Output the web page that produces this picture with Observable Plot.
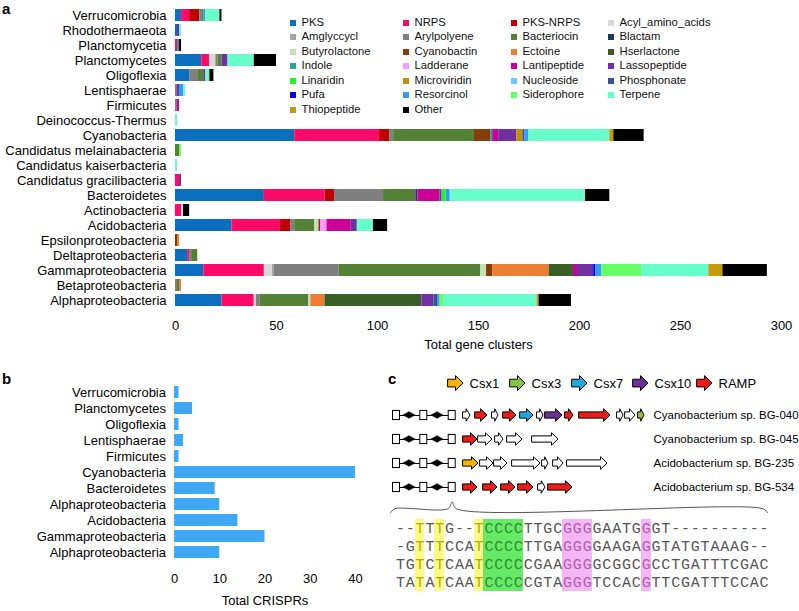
<!DOCTYPE html>
<html><head><meta charset="utf-8">
<script src="https://cdn.jsdelivr.net/npm/d3@7"></script>
<script src="https://cdn.jsdelivr.net/npm/@observablehq/plot@0.6"></script>
<style>
body{margin:0;background:#fff;}
#root{position:relative;width:799px;height:611px;overflow:hidden;background:#fff;font-family:"Liberation Sans",Arial,sans-serif;color:#000;}
.panel{position:absolute;}
.plbl{position:absolute;font-weight:bold;font-size:15px;line-height:15px;}
.legi{position:absolute;font-size:11.3px;line-height:14px;white-space:nowrap;color:#111;}
.legi span{display:inline-block;width:6px;height:6px;margin-right:5.5px;vertical-align:0px;}
</style></head>
<body><div id="root"></div>
<script>
// ---------- Panel a data ----------
const types = ["PKS","NRPS","PKS-NRPS","Acyl_amino_acids","Amglyccycl","Arylpolyene","Bacteriocin","Blactam","Butyrolactone","Cyanobactin","Ectoine","Hserlactone","Indole","Ladderane","Lantipeptide","Lassopeptide","Linaridin","Microviridin","Nucleoside","Phosphonate","Pufa","Resorcinol","Siderophore","Terpene","Thiopeptide","Other"];
const typeColors = ["#0b6fc0","#ff0a68","#c00000","#d9d9d9","#a6a6a6","#7f7f7f","#538135","#1f3864","#c5e0b3","#843c0b","#ed7d31","#3b5e27","#26a69a","#ff99ff","#cc0099","#7030a0","#1aff1a","#bf9000","#66ccff","#2f5597","#0000ff","#3399ff","#66ff66","#66ffcc","#c49a0c","#000000"];
const phyla = ["Verrucomicrobia","Rhodothermaeota","Planctomycetia","Planctomycetes","Oligoflexia","Lentisphaerae","Firmicutes","Deinococcus-Thermus","Cyanobacteria","Candidatus melainabacteria","Candidatus kaiserbacteria","Candidatus gracilibacteria","Bacteroidetes","Actinobacteria","Acidobacteria","Epsilonproteobacteria","Deltaproteobacteria","Gammaproteobacteria","Betaproteobacteria","Alphaproteobacteria"];
const clusterCounts = [
 [["PKS",3],["NRPS",4],["PKS-NRPS",5],["Arylpolyene",1],["Bacteriocin",1],["Resorcinol",1],["Terpene",7],["Other",1]],
 [["PKS",1],["Lassopeptide",1],["Terpene",1]],
 [["NRPS",1],["Indole",1],["Other",1]],
 [["PKS",13],["NRPS",4],["Acyl_amino_acids",3],["Arylpolyene",1],["Bacteriocin",2],["Lassopeptide",3],["Terpene",13],["Other",11]],
 [["PKS",7],["Arylpolyene",4],["Bacteriocin",3],["Lassopeptide",1],["Terpene",2],["Other",2]],
 [["Arylpolyene",1],["Lassopeptide",1],["Resorcinol",2],["Terpene",1]],
 [["Arylpolyene",1],["Lantipeptide",1]],
 [["Terpene",1]],
 [["PKS",59],["NRPS",42],["PKS-NRPS",5],["Arylpolyene",2],["Bacteriocin",40],["Cyanobactin",8],["Indole",1],["Lantipeptide",3],["Lassopeptide",9],["Microviridin",3],["Phosphonate",1],["Resorcinol",2],["Terpene",40],["Thiopeptide",2],["Other",15]],
 [["Bacteriocin",2],["Siderophore",1]],
 [["Terpene",1]],
 [["NRPS",2],["Lassopeptide",1]],
 [["PKS",44],["NRPS",30],["PKS-NRPS",5],["Arylpolyene",24],["Bacteriocin",16],["Blactam",1],["Lantipeptide",11],["Lassopeptide",1],["Linaridin",2],["Resorcinol",2],["Terpene",67],["Other",12]],
 [["NRPS",3],["Acyl_amino_acids",1],["Other",3]],
 [["PKS",28],["NRPS",24],["PKS-NRPS",5],["Arylpolyene",2],["Bacteriocin",10],["Butyrolactone",2],["Cyanobactin",1],["Ladderane",3],["Lantipeptide",12],["Lassopeptide",3],["Terpene",8],["Other",7]],
 [["Cyanobactin",1],["Ectoine",1]],
 [["PKS",6],["NRPS",1],["Arylpolyene",1],["Bacteriocin",3]],
 [["PKS",14],["NRPS",30],["Acyl_amino_acids",4],["Amglyccycl",1],["Arylpolyene",32],["Bacteriocin",70],["Butyrolactone",3],["Cyanobactin",3],["Ectoine",28],["Hserlactone",12],["Lantipeptide",2],["Lassopeptide",8],["Pufa",1],["Resorcinol",3],["Siderophore",20],["Terpene",33],["Thiopeptide",7],["Other",22]],
 [["Arylpolyene",1],["Bacteriocin",1],["Ectoine",1]],
 [["PKS",23],["NRPS",16],["Acyl_amino_acids",1],["Arylpolyene",2],["Bacteriocin",24],["Butyrolactone",1],["Ectoine",7],["Hserlactone",48],["Lassopeptide",6],["Phosphonate",2],["Resorcinol",1],["Siderophore",2],["Terpene",46],["Thiopeptide",1],["Other",16]]
];
const clusterTicks = [0,50,100,150,200,250,300];

// ---------- Panel b data ----------
const crisprPhyla = ["Verrucomicrobia","Planctomycetes","Oligoflexia","Lentisphaerae","Firmicutes","Cyanobacteria","Bacteroidetes","Alphaproteobacteria","Acidobacteria","Gammaproteobacteria","Alphaproteobacteria"];
const crisprCounts = [1,4,1,2,1,40,9,10,14,20,10];
const crisprTicks = [0,10,20,30,40];

// ---------- Panel c data ----------
const geneTypes = ["Csx1","Csx3","Csx7","Csx10","RAMP"];
const geneColors = ["#f6b50a","#86c440","#1ea9e1","#6c2f94","#ec1c17"];
const genomes = ["Cyanobacterium sp. BG-040","Cyanobacterium sp. BG-045","Acidobacterium sp. BG-235","Acidobacterium sp. BG-534"];
const crisprRepeatPos = [6, 33.3, 61.7];
const crisprSpacerPos = [19, 47];
const genesBG040 = [[73,80,""],[85,97,"RAMP"],[102,108,""],[113,126,"RAMP"],[130,143,"Csx7"],[147,153,""],[155,172,"Csx10"],[175,183,"RAMP"],[189,220,"RAMP"],[227,233,""],[235,245,""],[248,254,"Csx3"]];
const genesBG045 = [[73,87,"RAMP"],[88,102,""],[105,113,""],[117,132,""],[142,168,""]];
const genesBG235 = [[73,88,"Csx1"],[90,103,""],[104,117,""],[122,150,""],[152,158,""],[163,173,""],[177,217,""]];
const genesBG534 = [[73,87,"RAMP"],[93,107,"RAMP"],[111,125,"RAMP"],[128,143,"RAMP"],[148,155,""],[158,182,"RAMP"]];
const seqs = [
 "--TTTG--TCCCCTTGCGGGGAATGGGT----------",
 "-GTTTCCATCCCCTTGAGGGGAAGAGGTATGTAAAG--",
 "TGTCTCAATCCCCCGAAGGGGCGGCGCCTGATTTCGAC",
 "TATATCAATCCCCCGTAGGGTCCACGTTCGATTTCCAC"];
const yellowCols = [3,5,9];
const greenCols = [10,11,12,13];
const pinkCols = [18,19,20,26];

// ---------- build ----------
const root = document.getElementById("root");
const FONT = '"Liberation Sans", Arial, sans-serif';
const baseStyle = {fontFamily: FONT, fontSize: "13px", color: "#000", background: "transparent", overflow: "visible"};
function place(el, left, top) {
  const d = document.createElement("div");
  d.className = "panel"; d.style.left = left + "px"; d.style.top = top + "px";
  d.appendChild(el); root.appendChild(d); return d;
}
function label(t, left, top) {
  const d = document.createElement("div"); d.className = "plbl"; d.textContent = t;
  d.style.left = left + "px"; d.style.top = top + "px"; root.appendChild(d);
}

// Panel a
const rowsA = [];
phyla.forEach((p, i) => {
  clusterCounts[i].slice().sort((a, b) => types.indexOf(a[0]) - types.indexOf(b[0]))
    .forEach(([t, c]) => rowsA.push({phylum: p, type: t, count: c}));
});
const plotA = Plot.plot({
  width: 799, height: 355, marginTop: 3, marginBottom: 43, marginLeft: 175, marginRight: 18,
  style: baseStyle,
  x: {domain: [0, 300], ticks: clusterTicks, tickSize: 0, tickPadding: 8, label: null},
  y: {type: "band", domain: phyla, padding: 0.2, tickSize: 0, tickPadding: 9, label: null},
  color: {domain: types, range: typeColors},
  marks: [
    Plot.barX(rowsA, {x: "count", y: "phylum", fill: "type"}),
    Plot.text(["Total gene clusters"], {text: d => d, frameAnchor: "bottom", dy: 36, fontSize: 13})
  ]
});
place(plotA, 0, 0);
label("a", 2, 1);

// legend for a (4 columns, row-major)
const legCols = [290, 403, 511, 608];
types.forEach((t, k) => {
  const r = Math.floor(k / 4), c = k % 4;
  const d = document.createElement("div"); d.className = "legi";
  d.style.left = legCols[c] + "px"; d.style.top = (21.7 + r * 14.5 - 7) + "px";
  const sw = document.createElement("span"); sw.style.background = typeColors[k];
  d.appendChild(sw); d.appendChild(document.createTextNode(t));
  root.appendChild(d);
});

// Panel b
const idxB = d3.range(crisprPhyla.length);
const plotB = Plot.plot({
  width: 380, height: 240, marginTop: 7.5, marginBottom: 43.5, marginLeft: 174, marginRight: 25,
  style: baseStyle,
  x: {domain: [0, 40], ticks: crisprTicks, tickSize: 0, tickPadding: 7, label: null},
  y: {type: "band", domain: idxB, padding: 0.25, tickFormat: i => crisprPhyla[i], tickSize: 0, tickPadding: 8.5, label: null},
  marks: [
    Plot.barX(idxB, {x: i => crisprCounts[i], y: i => i, fill: "#3fa8f5"}),
    Plot.text(["Total CRISPRs"], {text: d => d, frameAnchor: "bottom", dy: 38, fontSize: 13})
  ]
});
place(plotB, 0, 370);
label("b", 2, 371);
label("c", 388, 371);

// Panel c - genes
const geneSets = [genesBG040, genesBG045, genesBG235, genesBG534];
const colorOf = t => t === "" ? "white" : geneColors[geneTypes.indexOf(t)];
function arrowPts(x0, x1, yc, b, H, maxHead, key, fill) {
  const len = x1 - x0;
  const head = Math.min(maxHead, len * 0.55);
  const xh = x1 - head;
  return [
    {k: key, x: x0, y1: yc - b, y2: yc + b, fill},
    {k: key, x: xh, y1: yc - b, y2: yc + b, fill},
    {k: key, x: xh, y1: yc - H, y2: yc + H, fill},
    {k: key, x: x1, y1: yc, y2: yc, fill}
  ];
}
const arrowData = [];
geneSets.forEach((gs, r) => gs.forEach((g, j) => arrowData.push(...arrowPts(g[0], g[1], r, 0.13, 0.26, 6.5, `g${r}_${j}`, colorOf(g[2])))));
const legX = [58, 120, 182, 243, 307];
const legY = -1.33;
geneTypes.forEach((t, i) => arrowData.push(...arrowPts(legX[i], legX[i] + 15, legY, 0.16, 0.31, 7.5, `L${i}`, geneColors[i])));
const squares = [], links = [], diamonds = [];
genomes.forEach((g, r) => {
  crisprRepeatPos.forEach(c => squares.push({r, x1: c - 3.5, x2: c + 3.5}));
  for (let i = 0; i < crisprRepeatPos.length - 1; i++) links.push({r, x1: crisprRepeatPos[i] + 3.5, x2: crisprRepeatPos[i + 1] - 3.5});
  crisprSpacerPos.forEach((c, i) => {
    const k = `d${r}_${i}`;
    diamonds.push({k, x: c - 6, y1: r, y2: r}, {k, x: c, y1: r - 0.14, y2: r + 0.14}, {k, x: c + 6, y1: r, y2: r});
  });
});
const lastRow = genomes.length - 1;
const braceNotch = crisprRepeatPos[crisprRepeatPos.length - 1];
const brace = [
  {x: 0, y: lastRow + 1.05}, {x: 4, y: lastRow + 0.89}, {x: braceNotch - 4, y: lastRow + 0.88},
  {x: braceNotch, y: lastRow + 0.6}, {x: braceNotch + 4, y: lastRow + 0.88},
  {x: 373, y: lastRow + 0.89}, {x: 377, y: lastRow + 1.05}];
const plotC1 = Plot.plot({
  width: 409, height: 156, marginTop: 3, marginBottom: 3, marginLeft: 0, marginRight: 151,
  style: Object.assign({}, baseStyle, {fontSize: "11.5px"}),
  x: {domain: [0, 258], axis: null},
  y: {type: "linear", domain: [-1.75, 4.5], reverse: true, axis: "right", ticks: [0, 1, 2, 3], tickFormat: i => genomes[i], tickSize: 0, tickPadding: 5, label: null},
  marks: [
    Plot.ruleY(links, {y: "r", x1: "x1", x2: "x2", stroke: "black", strokeWidth: 1}),
    Plot.rect(squares, {x1: "x1", x2: "x2", y1: d => d.r - 0.19, y2: d => d.r + 0.19, fill: "white", stroke: "black", strokeWidth: 1}),
    Plot.area(diamonds, {x1: "x", y1: "y1", y2: "y2", z: "k", fill: "black", stroke: "black", strokeWidth: 0.5}),
    Plot.area(arrowData, {x1: "x", y1: "y1", y2: "y2", z: "k", fill: "fill", stroke: "black", strokeWidth: 1, strokeLinejoin: "miter"}),
    Plot.text(geneTypes, {x: (d, i) => legX[i] + 21, y: legY, text: d => d, textAnchor: "start", fontSize: 13}),
    Plot.line(brace, {x: "x", y: "y", curve: "catmull-rom", stroke: "#555", strokeWidth: 1})
  ]
});
place(plotC1, 390, 370);

// Panel c - alignment
const hl = [];
seqs.forEach((s, r) => {
  yellowCols.forEach(c => hl.push({col: c, row: r, fill: "#fbfb86"}));
  greenCols.forEach(c => hl.push({col: c, row: r, fill: "#66ea66"}));
  pinkCols.forEach(c => hl.push({col: c, row: r, fill: "#f4b6f4"}));
});
const tint = c => yellowCols.includes(c) ? "#b8a800" : greenCols.includes(c) ? "#2f8f2f" : pinkCols.includes(c) ? "#b060b0" : "#555";
const chars = [];
seqs.forEach((s, r) => s.split("").forEach((ch, i) => chars.push({col: i + 1, row: r, ch, fill: tint(i + 1)})));
const plotC2 = Plot.plot({
  width: 409, height: 101, marginTop: 9, marginBottom: 20, marginLeft: 5, marginRight: 30.5,
  style: baseStyle,
  x: {type: "band", domain: d3.range(1, seqs[0].length + 1), padding: 0, axis: null},
  y: {type: "band", domain: d3.range(seqs.length), padding: 0, axis: null},
  marks: [
    Plot.cell(hl, {x: "col", y: "row", fill: "fill", inset: 0, shapeRendering: "crispEdges"}),
    Plot.text(chars, {x: "col", y: "row", text: "ch", fill: "fill", fontFamily: '"Liberation Mono", "DejaVu Sans Mono", monospace', fontSize: 15})
  ]
});
place(plotC2, 390, 510);
</script>
</body></html>
